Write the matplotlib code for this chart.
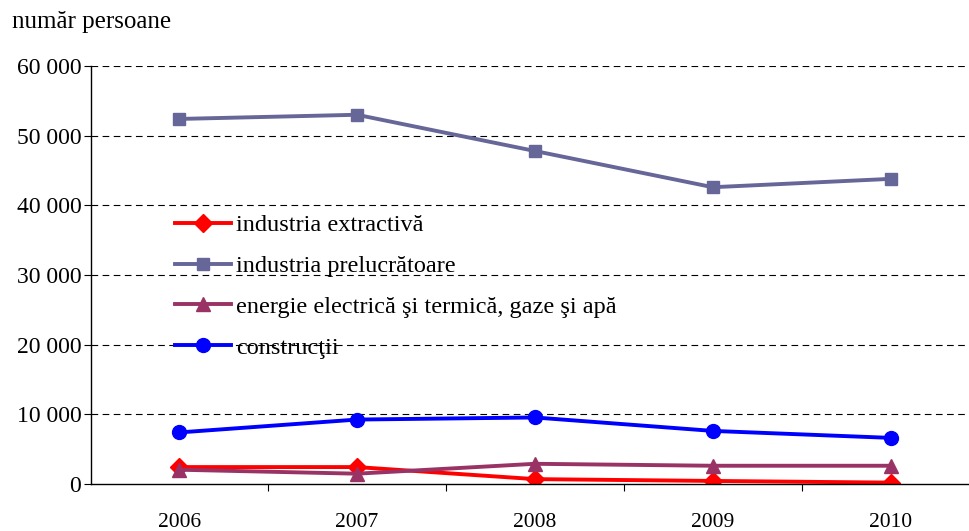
import matplotlib
matplotlib.use("Agg")
import matplotlib.pyplot as plt
from matplotlib.ticker import FuncFormatter

years = ["2006", "2007", "2008", "2009", "2010"]
extractiva = [2430, 2430, 700, 440, 200]
prelucratoare = [52400, 53000, 47800, 42600, 43800]
energie = [2050, 1480, 2900, 2620, 2620]
constructii = [7400, 9250, 9550, 7620, 6620]

series = [
    ("industria extractivă", extractiva, "#ff0000", "D", 9),
    ("industria prelucrătoare", prelucratoare, "#666699", "s", 9),
    ("energie electrică şi termică, gaze şi apă", energie, "#993366", "^", 10),
    ("construcţii", constructii, "#0000ff", "o", 10),
]

plt.rcParams["font.family"] = ["Liberation Serif", "DejaVu Serif"]

fig = plt.figure(figsize=(9.69, 5.31), dpi=100, facecolor="white")
ax = fig.add_axes([91 / 969, 1 - 484 / 531, 1 - 91 / 969, (484 - 66) / 531])

x = list(range(len(years)))
for label, vals, col, mk, ms in series:
    ax.plot(x, vals, color=col, lw=2.8, marker=mk, ms=ms, mfc=col, mec=col, label=label)

ax.set_xlim(-0.495, 4.44)
ax.set_ylim(0, 60000)
ax.set_yticks(range(0, 60001, 10000))
ax.yaxis.set_major_formatter(FuncFormatter(lambda v, p: f"{int(v):,}".replace(",", " ")))
ax.set_xticks(x)
ax.set_xticklabels(years, fontsize=15.5)
ax.set_xticks([0.5, 1.5, 2.5, 3.5], minor=True)
ax.tick_params(axis="x", which="major", length=0, pad=21)
ax.tick_params(axis="x", which="minor", length=5, direction="out", width=0.8)
ax.tick_params(axis="y", labelsize=17, length=5, direction="out", width=0.8, pad=2)

for v in range(10000, 60001, 10000):
    ax.axhline(v, color="black", lw=0.8, ls=(0, (6, 4)), zorder=0)

for s in ("top", "right"):
    ax.spines[s].set_visible(False)
for s in ("left", "bottom"):
    ax.spines[s].set_color("black")
    ax.spines[s].set_linewidth(1.0)

ax.legend(loc="upper left", bbox_to_anchor=(0.096, 0.645), frameon=False, fontsize=17.5,
          handlelength=2.3, handletextpad=0.2, labelspacing=0.77, borderaxespad=0,
          borderpad=0)

fig.text(12 / 969, 1 - 22 / 531, "număr persoane", fontsize=18, va="center", ha="left")

fig.savefig("out.png", dpi=100)
